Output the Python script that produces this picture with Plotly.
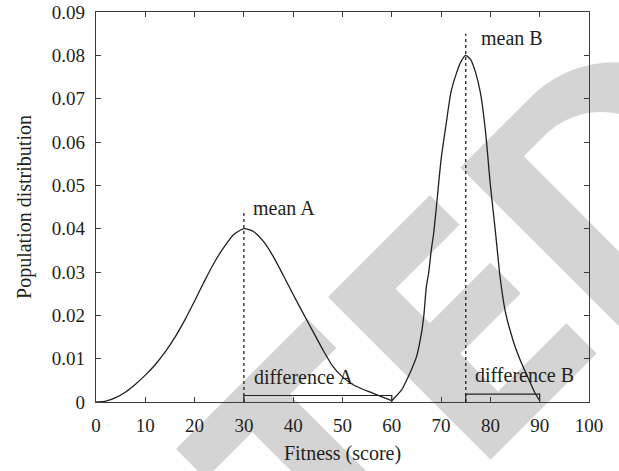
import math
import plotly.graph_objects as go

# ---------------- data ----------------
fitness_a = [0, 2, 4, 6, 8, 10, 12, 14, 16, 18, 20, 22, 24, 26, 28, 30,
             32, 34, 36, 38, 40, 42, 44, 46, 48, 50, 52, 54, 56, 58, 60]
dist_a = [0.0, 0.0002, 0.0010, 0.0023, 0.0041, 0.0062, 0.0086, 0.0115, 0.0149,
          0.0189, 0.0233, 0.0279, 0.0322, 0.0358, 0.0387, 0.0400,
          0.0393, 0.0370, 0.0335, 0.0292, 0.0248, 0.0205, 0.0163, 0.0121,
          0.0083, 0.0058, 0.0041, 0.0030, 0.0021, 0.0012, 0.0003]

fitness_b = [60, 61, 62, 63, 64, 65, 66, 66.5, 67, 67.5, 68, 68.5, 69, 70, 71,
             72, 73, 74, 75, 76, 77, 78, 79, 80, 81, 82, 83, 84, 85, 86, 87,
             88, 89, 90]
dist_b = [0.0003, 0.0015, 0.0028, 0.0050, 0.0075, 0.0104, 0.0158, 0.0200,
          0.0265, 0.0300, 0.0350, 0.0390, 0.0445, 0.0560, 0.0640, 0.0715,
          0.0755, 0.0785, 0.0800, 0.0790, 0.0760, 0.0712, 0.0625, 0.0500,
          0.0395, 0.0285, 0.0210, 0.0165, 0.0128, 0.0098, 0.0072, 0.0047,
          0.0022, 0.0003]

mean_x = [30, 75]
mean_top = [0.0437, 0.085]
mean_labels = ["mean A", "mean B"]
mean_label_pos = [(31.5, 0.0447), (77.6, 0.0840)]

diff_x = [(30, 60), (75, 90)]
diff_h = [0.0015, 0.0018]
diff_labels = ["difference A", "difference B"]
diff_label_pos = [(31.6, 0.0058), (76.4, 0.0062)]

x_ticks = [0, 10, 20, 30, 40, 50, 60, 70, 80, 90, 100]
x_tick_labels = ["0", "10", "20", "30", "40", "50", "60", "70", "80", "90", "100"]
y_ticks = [0, 0.01, 0.02, 0.03, 0.04, 0.05, 0.06, 0.07, 0.08, 0.09]
y_tick_labels = ["0", "0.01", "0.02", "0.03", "0.04", "0.05", "0.06", "0.07", "0.08", "0.09"]

# ---------------- figure ----------------
W, H = 619, 471
ML, MR, MT, MB = 96, 30, 12, 69
PW, PH = W - ML - MR, H - MT - MB
FONT = "Liberation Serif"
INK = "#231f20"

fig = go.Figure()

line_style = dict(color=INK, width=1.3)
fig.add_trace(go.Scatter(x=fitness_a, y=dist_a, mode="lines", line=dict(shape="spline", smoothing=0.6, **line_style),
                         showlegend=False, hoverinfo="skip"))
fig.add_trace(go.Scatter(x=fitness_b, y=dist_b, mode="lines", line=dict(shape="spline", smoothing=0.6, **line_style),
                         showlegend=False, hoverinfo="skip"))

for mx, mt in zip(mean_x, mean_top):
    fig.add_trace(go.Scatter(x=[mx, mx], y=[0, mt], mode="lines",
                             line=dict(color=INK, width=1.3, dash="dot"),
                             showlegend=False, hoverinfo="skip"))

for (x0, x1), h in zip(diff_x, diff_h):
    fig.add_trace(go.Scatter(x=[x0, x0, x1, x1], y=[0, h, h, 0], mode="lines",
                             line=dict(color=INK, width=1.2),
                             showlegend=False, hoverinfo="skip"))

for txt, (px, py) in zip(mean_labels + diff_labels, mean_label_pos + diff_label_pos):
    fig.add_annotation(x=px, y=py, text=txt, showarrow=False, xanchor="left", yanchor="middle",
                       font=dict(family=FONT, size=20, color=INK))

# ---------------- watermark (decoration, letter geometry) ----------------
WM_ORIGIN = (328, 297)
S2 = math.sqrt(2)


def to_paper(a, b, oa=0.0, ob=0.0):
    a += oa
    b += ob
    x = WM_ORIGIN[0] + (a + b) / S2
    y = WM_ORIGIN[1] + (b - a) / S2
    return (x - ML) / PW, (H - MB - y) / PH


def poly_path(pts, oa=0.0, ob=0.0):
    s = ""
    for i, (a, b) in enumerate(pts):
        xp, yp = to_paper(a, b, oa, ob)
        s += ("M" if i == 0 else "L") + f"{xp:.4f},{yp:.4f}"
    return s + "Z"


letter_T = [(-215, 0), (-30, 0), (-30, 42), (-96, 42), (-96, 230), (-149, 230), (-149, 42), (-215, 42)]
letter_E = [(0, 0), (144, 0), (144, 42), (53.5, 42), (53.5, 90.5), (139, 90.5), (139, 133.6),
            (53.5, 133.6), (53.5, 187), (150, 187), (150, 230), (0, 230)]
d_outer = [(0, 0), (100, 0)] + [(100 + 117 * math.cos(math.radians(t)), 115 + 115 * math.sin(math.radians(t)))
                                for t in range(-90, 91, 5)] + [(0, 230)]
d_inner = [(53, 37), (82, 37)] + [(82 + 80 * math.cos(math.radians(t)), 115 + 78 * math.sin(math.radians(t)))
                                  for t in range(-90, 91, 5)] + [(53, 193)]

WM_COLOR = "#d4d4d4"
wm_paths = [poly_path(letter_T), poly_path(letter_E),
            poly_path(d_outer, 185, 2) + poly_path(list(reversed(d_inner)), 185, 2)]
for p in wm_paths:
    fig.add_shape(type="path", path=p, xref="paper", yref="paper", fillcolor=WM_COLOR,
                  line=dict(width=0), layer="below")

axis_common = dict(showline=True, linecolor="#3c3c3c", linewidth=1.4, mirror="ticks",
                   ticks="inside", ticklen=5, tickwidth=1.3, tickcolor="#3c3c3c",
                   showgrid=False, zeroline=False,
                   tickfont=dict(family=FONT, size=19, color=INK))

fig.update_xaxes(range=[0, 100], tickvals=x_ticks, ticktext=x_tick_labels,
                 title=dict(text="Fitness (score)", font=dict(family=FONT, size=20, color=INK), standoff=10),
                 ticklabelstandoff=6, **axis_common)
fig.update_yaxes(range=[0, 0.09], tickvals=y_ticks, ticktext=y_tick_labels,
                 title=dict(text="Population distribution", font=dict(family=FONT, size=20, color=INK), standoff=14),
                 ticklabelstandoff=6, **axis_common)

fig.update_layout(width=W, height=H, margin=dict(l=ML, r=MR, t=MT, b=MB, autoexpand=False),
                  paper_bgcolor="white", plot_bgcolor="rgba(0,0,0,0)",
                  font=dict(family=FONT, color=INK))

fig.write_html("out.html", config={"displayModeBar": False},
               post_script="document.body.style.margin='0px';")
